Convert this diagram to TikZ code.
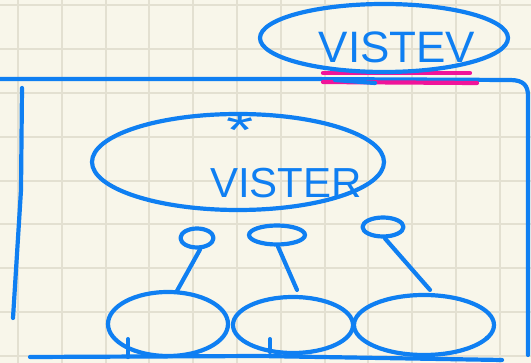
\documentclass[tikz,border=0pt]{standalone}
\usepackage{fontspec}
\setmainfont{Liberation Sans}
\usetikzlibrary{shapes.geometric}
\definecolor{paper}{HTML}{F8F6EA}
\definecolor{gridc}{HTML}{E3E0D1}
\definecolor{ink}{HTML}{0F7FF2}
\definecolor{hl}{HTML}{F0149A}
\tikzset{
  pen/.style={draw=ink, line width=4.2pt, line cap=round, line join=round},
  oval/.style={pen, ellipse, inner sep=0pt},
  label/.style={text=ink, font=\fontsize{42}{42}\selectfont, inner sep=0pt},
}
\begin{document}
\begin{tikzpicture}[x=1pt,y=-1pt]
\useasboundingbox (0,0) rectangle (531,363);
\fill[paper] (0,0) rectangle (531,363);
% grid
\foreach \k in {0,...,11} \draw[gridc, line width=2pt] ({18+43.8*\k},0) -- ({18+43.8*\k},363);
\foreach \k in {0,...,8} \draw[gridc, line width=2pt] (0,{5.4+43.8*\k}) -- (531,{5.4+43.8*\k});
% outer box
\draw[pen] (0,79) -- (300,79) -- (510,80) .. controls (524,80) and (528,86) .. (528,96) -- (528,355);
\draw[pen] (22,88) -- (21,190) -- (13,318);
\draw[pen] (30,357) -- (260,356) -- (502,360);
% highlight
\draw[hl, line width=4.2pt, line cap=round] (323,73) -- (470,73);
\draw[hl, line width=4.2pt, line cap=round] (323,82) -- (477,83);
% top ellipse
\node[oval, minimum width=248pt, minimum height=68pt] (top) at (384,38) {};
\node[label, font=\fontsize{44}{44}\selectfont] (toptext) at (397,47) {VISTEV};
\draw[pen] (335,80) -- (375,83);
% middle ellipse
\node[oval, minimum width=292pt, minimum height=96pt] (mid) at (238,162) {};
\node[label, font=\fontsize{50}{50}\selectfont, anchor=base] (star) at (240,148) {\scalebox{1.4}[1]{*}};
\node[label, anchor=base west] (midtext) at (210,198) {VISTER};
% small ellipses
\node[oval, minimum width=33pt, minimum height=19pt] (s1) at (197,238) {};
\node[oval, minimum width=56pt, minimum height=19pt] (s2) at (277,235) {};
\node[oval, minimum width=41pt, minimum height=19pt] (s3) at (383,227) {};
% bottom ellipses
\node[oval, minimum width=120pt, minimum height=64pt] (b1) at (168,324) {};
\node[oval, minimum width=120pt, minimum height=56pt] (b2) at (293,325) {};
\node[oval, minimum width=140pt, minimum height=60pt] (b3) at (424,325) {};
% connectors
\draw[pen] (b1.north) ++(9,1) coordinate (c1) (c1) -- (s1.-75);
\draw[pen] (b2.north) ++(4,-5) coordinate (c2) (c2) -- (s2.-85);
\draw[pen] (b3.north) ++(6,-3) coordinate (c3) (c3) -- (s3.-80);
% ticks and dot
\draw[pen] (b1.south) ++(-40,-19) coordinate (t1) (t1) -- ++(0,18);
\draw[pen] (b2.south) ++(-23,-16) coordinate (t2) (t2) -- ++(0,13);
\fill[ink] (487,338) circle (2.3pt);
\end{tikzpicture}
\end{document}
